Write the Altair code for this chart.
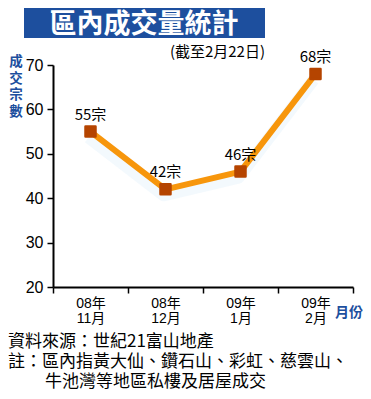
import altair as alt
import pandas as pd

months = ["08年|11月", "08年|12月", "09年|1月", "09年|2月"]
counts = [55, 42, 46, 68]
labels = ["55宗", "42宗", "46宗", "68宗"]
y_ticks = [20, 30, 40, 50, 60, 70]

title_text = "區內成交量統計"
subtitle_text = "(截至2月22日)"
y_title = ["成", "交", "宗", "數"]
x_title = "月份"
note1 = "資料來源：世紀21富山地產"
note2 = "註：區內指黃大仙、鑽石山、彩虹、慈雲山、"
note3 = "牛池灣等地區私樓及居屋成交"

FONT = "Liberation Sans, Noto Sans CJK TC, sans-serif"
CJK = "Noto Sans CJK TC, Liberation Sans, sans-serif"
BLUE = "#1d4f9e"
ORANGE = "#f7960c"
BROWN = "#b54400"

df = pd.DataFrame({"m": months, "v": counts, "lab": labels})

x = alt.X("m:N", sort=None,
          scale=alt.Scale(paddingInner=0, paddingOuter=0),
          axis=alt.Axis(title=None, labelAngle=0, tickBand="extent",
                        labelExpr="split(datum.label, '|')",
                        labelFont=FONT, labelFontSize=14, labelLineHeight=15,
                        labelColor="black", labelPadding=3,
                        domainColor="black", domainWidth=2,
                        tickColor="black", tickWidth=1.5, tickSize=6))
y = alt.Y("v:Q",
          scale=alt.Scale(domain=[20, 70], nice=False, zero=False),
          axis=alt.Axis(title=None, values=y_ticks, grid=False,
                        labelFont=FONT, labelFontSize=16, labelColor="black",
                        labelPadding=4, domainColor="black", domainWidth=2,
                        tickColor="black", tickWidth=1.5, tickSize=6))

base = alt.Chart(df)

shadow = base.mark_line(color="#d8ecf9", strokeWidth=12, opacity=0.3,
                        yOffset=6, xOffset=-2, strokeJoin="round").encode(x=x, y=y)
line = base.mark_line(color=ORANGE, strokeWidth=6, strokeJoin="round").encode(x=x, y=y)
pts = base.mark_point(shape="square", filled=True, size=100, color=BROWN,
                      stroke=BROWN, strokeWidth=2.5, strokeJoin="round",
                      opacity=1).encode(x=x, y=y)
vals = base.mark_text(dy=-17, font=CJK, fontSize=15, color="black").encode(
    x=x, y=y, text="lab:N")

one = pd.DataFrame({"a": [0]})


def txt(t, px, py, size, color="black", weight="normal", align="left",
        baseline="middle", font=CJK, **kw):
    return alt.Chart(one).mark_text(
        text=t, align=align, baseline=baseline, fontSize=size, color=color,
        fontWeight=weight, font=font, **kw
    ).encode(x=alt.value(px), y=alt.value(py))


title_box = alt.Chart(one).mark_rect(color=BLUE).encode(
    x=alt.value(-29), x2=alt.value(212), y=alt.value(-57), y2=alt.value(-27))

layers = [
    title_box,
    txt(title_text, 91, -40, 27, color="white", weight="bold", align="center"),
    txt(subtitle_text, 212, -13, 15, align="right"),
    txt(y_title, -37, -10, 13.5, color=BLUE, weight="bold", align="center",
        baseline="top", lineHeight=16.5),
    txt(x_title, 282, 248, 14, color=BLUE, weight="bold"),
    txt(note1, -45, 277, 17),
    txt(note2, -45, 297, 17),
    txt(note3, -8, 317, 17),
    shadow, line, pts, vals,
]

chart = alt.layer(*layers).properties(
    width=300, height=222,
    padding={"left": 45, "top": 57, "right": 10, "bottom": 104},
    autosize=alt.AutoSizeParams(type="none"),
).configure_view(stroke=None)

chart.save("out.html", embed_options={"renderer": "svg", "actions": False})
